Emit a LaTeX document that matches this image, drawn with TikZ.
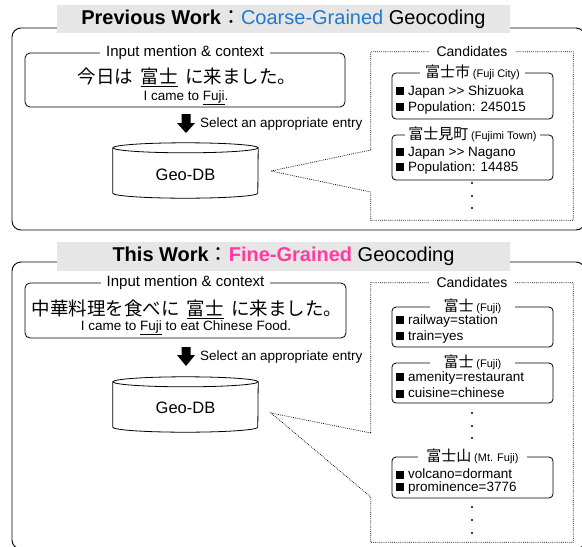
\documentclass[tikz,border=0pt]{standalone}
\usepackage{fontspec}
\setmainfont{Liberation Sans}
\newfontfamily\jp{Noto Sans CJK JP}
\usetikzlibrary{calc}
\definecolor{bannergray}{HTML}{E6E6E6}
\definecolor{coarseblue}{HTML}{1F7BCF}
\definecolor{finepink}{HTML}{FF3C9E}
\newcommand{\myfs}[1]{\fontsize{#1}{#1}\selectfont}
\newcommand{\sqmark}{\rule{8pt}{8pt}\hspace{4pt}}
\newcommand{\gtgt}{\textgreater{}\textgreater{}}
\begin{document}
\begin{tikzpicture}[x=1pt,y=-1pt,
  frame/.style={draw, line width=0.9pt, rounded corners=9pt},
  banner/.style={fill=bannergray, inner sep=0pt, minimum width=453pt},
  inbox/.style={draw, line width=0.8pt, rounded corners=5pt, inner sep=0pt},
  boxlabel/.style={fill=white, inner xsep=6pt, inner ysep=1pt},
  candbox/.style={draw, line width=0.8pt, rounded corners=4pt, inner sep=0pt, minimum width=161pt},
  item/.style={anchor=west, inner sep=0pt, font=\myfs{13.5}},
  vdot/.style={circle, fill=black, inner sep=0pt, minimum size=2.4pt},
  callout/.style={dash pattern=on 0.8pt off 1.1pt, line width=0.7pt},
  dbline/.style={line width=0.8pt},
  plain/.style={inner sep=0pt}
]
\useasboundingbox (0,0) rectangle (582,547);

% ================= Top panel =================
\draw[frame] (12,28) rectangle (585,230);
\node[banner, minimum height=28pt, font=\myfs{20}] (ban1) at (283.5,19)
  {\textbf{Previous Work}{\jp ：}\textcolor{coarseblue}{Coarse-Grained} Geocoding};

\node[inbox, minimum width=320pt, minimum height=54pt] (in1) at (185,80) {};
\node[boxlabel, font=\myfs{15}] (in1lab) at (in1.north) {Input mention \& context};
\node[plain, font=\jp\myfs{18.5}] (in1jp) at (187,77) {今日は\hspace{0.4em}\underline{富士}\hspace{0.4em}に来ました。};
\node[plain, font=\myfs{13.5}] (in1en) at (186,98) {I came to \underline{Fuji}.};

\coordinate (ar1) at (186,114);
\fill (ar1) ++(-4.5,0) -- ++(9,0) -- ++(0,9) -- ++(4.5,0) -- ++(-9,10) -- ++(-9,-10) -- ++(4.5,0) -- cycle;
\node[plain, anchor=west, font=\myfs{13.5}] (sel1) at (200,124) {Select an appropriate entry};

\node[plain, minimum width=145pt, minimum height=45pt] (db1) at (185.5,170.5) {};
\draw[dbline] (db1.north west) -- (db1.south west) arc[start angle=180,end angle=360,x radius=72.5pt,y radius=5pt] -- (db1.north east);
\draw[dbline] (db1.north) ellipse[x radius=72.5pt, y radius=5pt];
\node[plain, font=\myfs{16.5}] (db1t) at (185.5,175) {Geo-DB};

\node[plain, minimum width=202pt, minimum height=168pt] (cand1) at (472,136) {};
\coordinate (tip1) at (271,171);
\draw[callout] (cand1.west |- 0,150) -- (cand1.north west) -- (cand1.north east) -- (cand1.south east) -- (cand1.south west) -- (cand1.west |- 0,192) -- (tip1) -- cycle;
\node[boxlabel, font=\myfs{14}, inner xsep=8pt] (cand1lab) at (cand1.north) {Candidates};

\node[candbox, minimum height=46pt] (c11) at (472.5,96) {};
\node[boxlabel, inner xsep=5pt] (c11lab) at (c11.north) {{\jp\myfs{15}富士市} {\myfs{11}(Fuji City)}};
\node[item] (c11a) at (396,92) {\sqmark Japan \gtgt{} Shizuoka};
\node[item] (c11b) at (396,108) {\sqmark Population: 245015};

\node[candbox, minimum height=45pt] (c12) at (472.5,157.5) {};
\node[boxlabel, inner xsep=3pt] (c12lab) at (c12.north) {{\jp\myfs{15}富士見町} {\myfs{11}(Fujimi Town)}};
\node[item] (c12a) at (396,153) {\sqmark Japan \gtgt{} Nagano};
\node[item] (c12b) at (396,168) {\sqmark Population: 14485};

\node[vdot] (d11) at (472,183) {};
\node[vdot] (d12) at (472,196) {};
\node[vdot] (d13) at (472,208) {};

% ================= Bottom panel =================
\draw[frame] (12,262) rectangle (585,549);
\node[banner, minimum height=29pt, font=\myfs{20}] (ban2) at (283.5,256.5)
  {\textbf{This Work}{\jp ：}\textcolor{finepink}{\textbf{Fine-Grained}} Geocoding};

\node[inbox, minimum width=321pt, minimum height=55pt] (in2) at (185.5,310.5) {};
\node[boxlabel, font=\myfs{15}] (in2lab) at (in2.north) {Input mention \& context};
\node[plain, font=\jp\myfs{18.5}] (in2jp) at (187,309) {中華料理を食べに\hspace{0.4em}\underline{富士}\hspace{0.4em}に来ました。};
\node[plain, font=\myfs{13.5}] (in2en) at (186,328) {I came to \underline{Fuji} to eat Chinese Food.};

\coordinate (ar2) at (186,347);
\fill (ar2) ++(-4.5,0) -- ++(9,0) -- ++(0,8) -- ++(4.5,0) -- ++(-9,11) -- ++(-9,-11) -- ++(4.5,0) -- cycle;
\node[plain, anchor=west, font=\myfs{13.5}] (sel2) at (200,357) {Select an appropriate entry};

\node[plain, minimum width=145pt, minimum height=45pt] (db2) at (185.5,404.5) {};
\draw[dbline] (db2.north west) -- (db2.south west) arc[start angle=180,end angle=360,x radius=72.5pt,y radius=5pt] -- (db2.north east);
\draw[dbline] (db2.north) ellipse[x radius=72.5pt, y radius=5pt];
\node[plain, font=\myfs{16.5}] (db2t) at (185.5,408) {Geo-DB};

\node[plain, minimum width=202pt, minimum height=259pt] (cand2) at (472,412.5) {};
\coordinate (tip2) at (271,413);
\draw[callout] (cand2.west |- 0,433) -- (cand2.north west) -- (cand2.north east) -- (cand2.south east) -- (cand2.south west) -- (cand2.west |- 0,497) -- (tip2) -- cycle;
\node[boxlabel, font=\myfs{14}, inner xsep=8pt] (cand2lab) at (cand2.north) {Candidates};

\node[candbox, minimum height=40pt] (c21) at (472.5,327) {};
\node[boxlabel, inner xsep=14pt] (c21lab) at (c21.north) {{\jp\myfs{15}富士} {\myfs{11}(Fuji)}};
\node[item] (c21a) at (396,321) {\sqmark railway=station};
\node[item] (c21b) at (396,337) {\sqmark train=yes};

\node[candbox, minimum height=40pt] (c22) at (472.5,383) {};
\node[boxlabel, inner xsep=14pt] (c22lab) at (c22.north) {{\jp\myfs{15}富士} {\myfs{11}(Fuji)}};
\node[item] (c22a) at (396,378) {\sqmark amenity=restaurant};
\node[item] (c22b) at (396,393) {\sqmark cuisine=chinese};

\node[vdot] (d21) at (472,413) {};
\node[vdot] (d22) at (472,426) {};
\node[vdot] (d23) at (472,438) {};

\node[candbox, minimum height=41pt] (c23) at (472.5,477.5) {};
\node[boxlabel, inner xsep=8pt] (c23lab) at (c23.north) {{\jp\myfs{15}富士山} {\myfs{11}(Mt. Fuji)}};
\node[item] (c23a) at (396,474) {\sqmark volcano=dormant};
\node[item] (c23b) at (396,488) {\sqmark prominence=3776};

\node[vdot] (d24) at (472,507) {};
\node[vdot] (d25) at (472,520) {};
\node[vdot] (d26) at (472,533) {};
\end{tikzpicture}
\end{document}
